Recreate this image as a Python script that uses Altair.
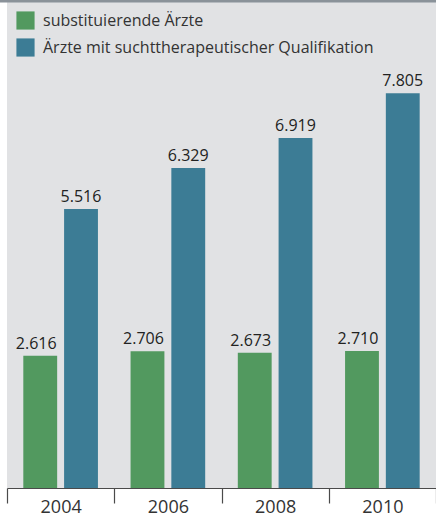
import altair as alt
import pandas as pd

years = ["2004", "2006", "2008", "2010"]
series = ["substituierende Ärzte", "Ärzte mit suchttherapeutischer Qualifikation"]
subst = [2616, 2706, 2673, 2710]
sucht = [5516, 6329, 6919, 7805]
colors = ["#52995f", "#3c7c95"]

rows = []
for i, y in enumerate(years):
    for s, vals in zip(series, [subst, sucht]):
        v = vals[i]
        rows.append({"year": y, "series": s, "value": v,
                     "label": f"{v:,}".replace(",", ".")})
df = pd.DataFrame(rows)

FONT = "Open Sans"

x = alt.X("year:N", sort=years, title=None,
          scale=alt.Scale(paddingInner=0, paddingOuter=0),
          axis=alt.Axis(labelAngle=0, tickBand="extent", tickSize=15,
                        tickColor="#4a4a4a", domainColor="#4a4a4a",
                        tickWidth=1.2, domainWidth=1.2,
                        labelFont=FONT, labelFontSize=18, labelColor="#333333",
                        labelBaseline="alphabetic", labelPadding=9))
xo = alt.XOffset("series:N", sort=series,
                 scale=alt.Scale(paddingInner=0.17, paddingOuter=0.4))
y = alt.Y("value:Q", scale=alt.Scale(domain=[0, 9650]), axis=None)

base = alt.Chart(df)

bars = base.mark_bar().encode(
    x=x, xOffset=xo, y=y,
    color=alt.Color("series:N", sort=series,
                    scale=alt.Scale(domain=series, range=colors),
                    legend=alt.Legend(title=None, orient="none", legendX=9, legendY=11,
                                      symbolType="square", symbolSize=330,
                                      symbolStrokeWidth=0, symbolOpacity=1,
                                      labelFont=FONT, labelFontSize=16,
                                      labelColor="#333333", rowPadding=8,
                                      labelOffset=8, labelLimit=0, padding=0)),
)

text_g = base.transform_filter(alt.datum.series == series[0]).mark_text(
    baseline="alphabetic", dy=-7, dx=-4, font=FONT, fontSize=16, color="#222222"
).encode(x=x, xOffset=xo, y=y, text="label:N")

text_b = base.transform_filter(alt.datum.series == series[1]).mark_text(
    baseline="alphabetic", dy=-7, font=FONT, fontSize=16, color="#222222"
).encode(x=x, xOffset=xo, y=y, text="label:N")

top = alt.Chart(pd.DataFrame({"a": [0]})).mark_rule(
    color="#8a9299", strokeWidth=3
).encode(y=alt.value(1), x=alt.value(-7), x2=alt.value(429))

chart = alt.layer(bars, text_g, text_b, top).properties(
    width=429, height=488,
    autosize=alt.AutoSizeParams(type="none"),
    padding={"left": 7, "top": 0, "right": 0, "bottom": 27},
    background="white",
).configure_view(fill="#e1e2e4", strokeWidth=0)

chart.save("out.html", embed_options={"renderer": "svg", "actions": False})
